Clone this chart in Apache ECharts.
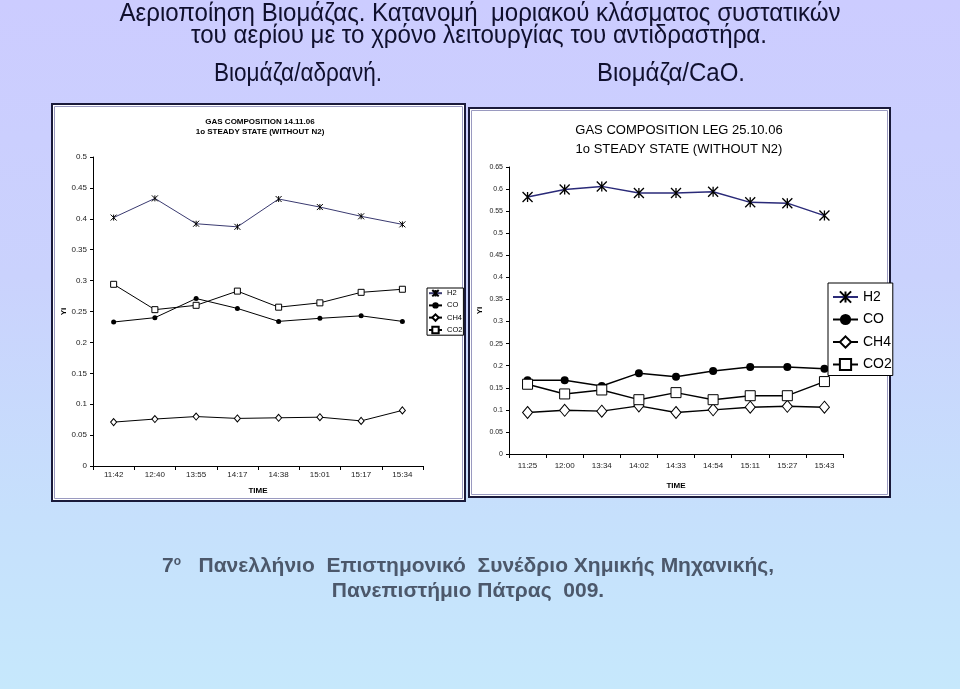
<!DOCTYPE html>
<html><head><meta charset="utf-8">
<script src="https://cdn.jsdelivr.net/npm/echarts@6/dist/echarts.min.js"></script>
<style>
html,body{margin:0;padding:0;}
body{width:960px;height:689px;background:linear-gradient(180deg,#CCCCFF 0%,#CAD2FD 40%,#C6E0FC 75%,#C6E8FC 100%);}
#c{width:960px;height:689px;}
</style>
</head><body><div id="c"></div>
<script>
// ---- data: chart 1 (Βιομάζα/αδρανή) ----
const times1 = ['11:42','12:40','13:55','14:17','14:38','15:01','15:17','15:34'];
const h2_1  = [0.402,0.433,0.392,0.387,0.432,0.419,0.404,0.391];
const co_1  = [0.233,0.240,0.271,0.255,0.234,0.239,0.243,0.234];
const ch4_1 = [0.071,0.076,0.080,0.077,0.078,0.079,0.073,0.090];
const co2_1 = [0.294,0.253,0.260,0.283,0.257,0.264,0.281,0.286];
// ---- data: chart 2 (Βιομάζα/CaO) ----
const times2 = ['11:25','12:00','13:34','14:02','14:33','14:54','15:11','15:27','15:43'];
const h2_2  = [0.582,0.599,0.606,0.591,0.591,0.594,0.570,0.568,0.540];
const co_2  = [0.167,0.167,0.154,0.183,0.175,0.188,0.197,0.197,0.193];
const ch4_2 = [0.094,0.099,0.097,0.109,0.094,0.100,0.106,0.108,0.106];
const co2_2 = [0.158,0.136,0.145,0.123,0.139,0.123,0.132,0.132,0.164];
const seriesNames = ['H2','CO','CH4','CO2'];

const FONT = '"Liberation Sans", Arial, sans-serif';
const STAR = 'path://M0,0L10,10M10,0L0,10M5,0L5,10';

// condensed heading text: scale Liberation Sans horizontally to the reference widths
const mctx = document.createElement('canvas').getContext('2d');
function narrowText(text, cx, cy, size, targetW, color){
  const font = size + 'px ' + FONT;
  mctx.font = font;
  const w = mctx.measureText(text).width || targetW;
  return {type: 'text', z: 5, x: cx, y: cy, scaleX: targetW / w, scaleY: 1,
    style: {text: text, x: 0, y: 0, align: 'center', verticalAlign: 'middle', font: font, fill: color}};
}

function mkSeries(name, data, idx, kind, big){
  const s = {
    name: name, type: 'line', data: data, xAxisIndex: idx, yAxisIndex: idx,
    showSymbol: true, animation: false, silent: true,
    emphasis: {disabled: true},
    lineStyle: {color: '#000', width: big ? 1.4 : 1}
  };
  if (kind === 'H2') {
    s.symbol = STAR; s.symbolSize = big ? 10 : 6;
    s.lineStyle.color = big ? '#2a2a78' : '#3a3a70';
    s.itemStyle = {color: '#000', borderColor: '#000', borderWidth: big ? 1.3 : 1};
  } else if (kind === 'CO') {
    s.symbol = 'circle'; s.symbolSize = big ? 8 : 5;
    s.itemStyle = {color: '#000', borderColor: '#000', borderWidth: 0};
  } else if (kind === 'CH4') {
    s.symbol = 'diamond'; s.symbolSize = big ? [10, 12] : [6, 7];
    s.itemStyle = {color: '#fff', borderColor: '#000', borderWidth: 1};
  } else {
    s.symbol = 'rect'; s.symbolSize = big ? 10 : 6;
    s.itemStyle = {color: '#fff', borderColor: '#000', borderWidth: 1};
  }
  return s;
}

const chart = echarts.init(document.getElementById('c'), null, {renderer: 'canvas'});

const series = [
  mkSeries('H2', h2_1, 0, 'H2', false),
  mkSeries('CO', co_1, 0, 'CO', false),
  mkSeries('CH4', ch4_1, 0, 'CH4', false),
  mkSeries('CO2', co2_1, 0, 'CO2', false),
  mkSeries('H2 ', h2_2, 1, 'H2', true),
  mkSeries('CO ', co_2, 1, 'CO', true),
  mkSeries('CH4 ', ch4_2, 1, 'CH4', true),
  mkSeries('CO2 ', co2_2, 1, 'CO2', true)
];

function xAx(idx, data, labelSize, margin, nameGap){
  return {
    type: 'category', gridIndex: idx, data: data, boundaryGap: true,
    axisLine: {lineStyle: {color: '#000', width: 1}},
    axisTick: {show: true, length: 4, lineStyle: {color: '#000'}},
    axisLabel: {fontSize: labelSize, color: '#222', margin: margin, interval: 0, fontFamily: FONT},
    splitLine: {show: false},
    name: 'TIME', nameLocation: 'middle', nameGap: nameGap,
    nameTextStyle: {fontWeight: 'bold', fontSize: 8, color: '#000', fontFamily: FONT}
  };
}
function yAx(idx, max, labelSize, nameGap){
  return {
    type: 'value', gridIndex: idx, min: 0, max: max, interval: 0.05,
    axisLine: {show: true, lineStyle: {color: '#000', width: 1}},
    axisTick: {show: true, length: 3, lineStyle: {color: '#000'}},
    axisLabel: {fontSize: labelSize, color: '#222', margin: 6, fontFamily: FONT,
      formatter: v => String(Math.round(v * 100) / 100)},
    splitLine: {show: false},
    name: 'Yi', nameLocation: 'middle', nameGap: nameGap, nameRotate: 90,
    nameTextStyle: {fontWeight: 'bold', fontSize: 8, color: '#000', fontFamily: FONT}
  };
}

const HEAD = '#10102e';
const option = {
  animation: false,
  backgroundColor: 'transparent',
  textStyle: {fontFamily: FONT},
  grid: [
    {left: 93, top: 157, width: 330, height: 309},
    {left: 509, top: 167, width: 334, height: 287}
  ],
  xAxis: [xAx(0, times1, 8, 5, 21), xAx(1, times2, 8, 8, 28)],
  yAxis: [yAx(0, 0.5, 8, 24), yAx(1, 0.65, 7, 25)],
  legend: [
    {
      data: seriesNames, orient: 'vertical', left: 427, top: 288,
      itemWidth: 13, itemHeight: 8, itemGap: 4, padding: [1, 1, 1, 1],
      borderColor: '#000', borderWidth: 1, backgroundColor: '#fff',
      selectedMode: false,
      textStyle: {fontSize: 7.5, color: '#000', fontFamily: FONT}
    },
    {
      data: seriesNames.map(n => n + ' '), orient: 'vertical', left: 828, top: 283,
      itemWidth: 25, itemHeight: 14, itemGap: 8.5, padding: [7, 1, 4, 4],
      borderColor: '#000', borderWidth: 1, backgroundColor: '#fff',
      selectedMode: false, formatter: n => n.trim(),
      textStyle: {fontSize: 14, color: '#000', fontFamily: FONT}
    }
  ],
  graphic: [
    // chart panels
    {type: 'rect', z: -10, shape: {x: 52, y: 104, width: 413, height: 397},
      style: {fill: '#fff', stroke: '#1a1a3a', lineWidth: 2}},
    {type: 'rect', z: -9, shape: {x: 54.5, y: 106.5, width: 408, height: 392},
      style: {fill: 'none', stroke: '#9a9ac0', lineWidth: 1}},
    {type: 'rect', z: -10, shape: {x: 469, y: 108, width: 421, height: 389},
      style: {fill: '#fff', stroke: '#1a1a3a', lineWidth: 2}},
    {type: 'rect', z: -9, shape: {x: 471.5, y: 110.5, width: 416, height: 384},
      style: {fill: 'none', stroke: '#9a9ac0', lineWidth: 1}},
    // heading (condensed)
    narrowText('Αεριοποίηση Βιομάζας. Κατανομή  μοριακού κλάσματος συστατικών', 480, 14, 26, 721, HEAD),
    narrowText('του αερίου με το χρόνο λειτουργίας του αντιδραστήρα.', 479, 36, 26, 576, HEAD),
    narrowText('Βιομάζα/αδρανή.', 298, 74, 26, 168, HEAD),
    narrowText('Βιομάζα/CaO.', 671, 74, 26, 148, HEAD),
    // chart titles
    {type: 'text', z: 5, style: {text: 'GAS COMPOSITION 14.11.06\n1o STEADY STATE (WITHOUT N2)',
      x: 260, y: 127, align: 'center', verticalAlign: 'middle', lineHeight: 10,
      font: 'bold 8px ' + FONT, fill: '#000'}},
    {type: 'text', z: 5, style: {text: 'GAS COMPOSITION LEG 25.10.06\n1o STEADY STATE (WITHOUT N2)',
      x: 679, y: 139.5, align: 'center', verticalAlign: 'middle', lineHeight: 19,
      font: '13px ' + FONT, fill: '#000'}},
    // footer
    {type: 'text', z: 5, style: {
      text: '{n|7}{s|ο}{n|   Πανελλήνιο  Επιστημονικό  Συνέδριο Χημικής Μηχανικής,}',
      x: 468, y: 566, align: 'center', verticalAlign: 'middle',
      rich: {
        n: {font: 'bold 21px ' + FONT, fill: '#4c586b'},
        s: {font: 'bold 12px ' + FONT, fill: '#4c586b', verticalAlign: 'top', padding: [0, 0, 9, 0]}
      }}},
    {type: 'text', z: 5, style: {text: 'Πανεπιστήμιο Πάτρας  009.', x: 468, y: 591,
      align: 'center', verticalAlign: 'middle', font: 'bold 21px ' + FONT, fill: '#4c586b'}}
  ],
  series: series
};
chart.setOption(option);
</script>
</body></html>
